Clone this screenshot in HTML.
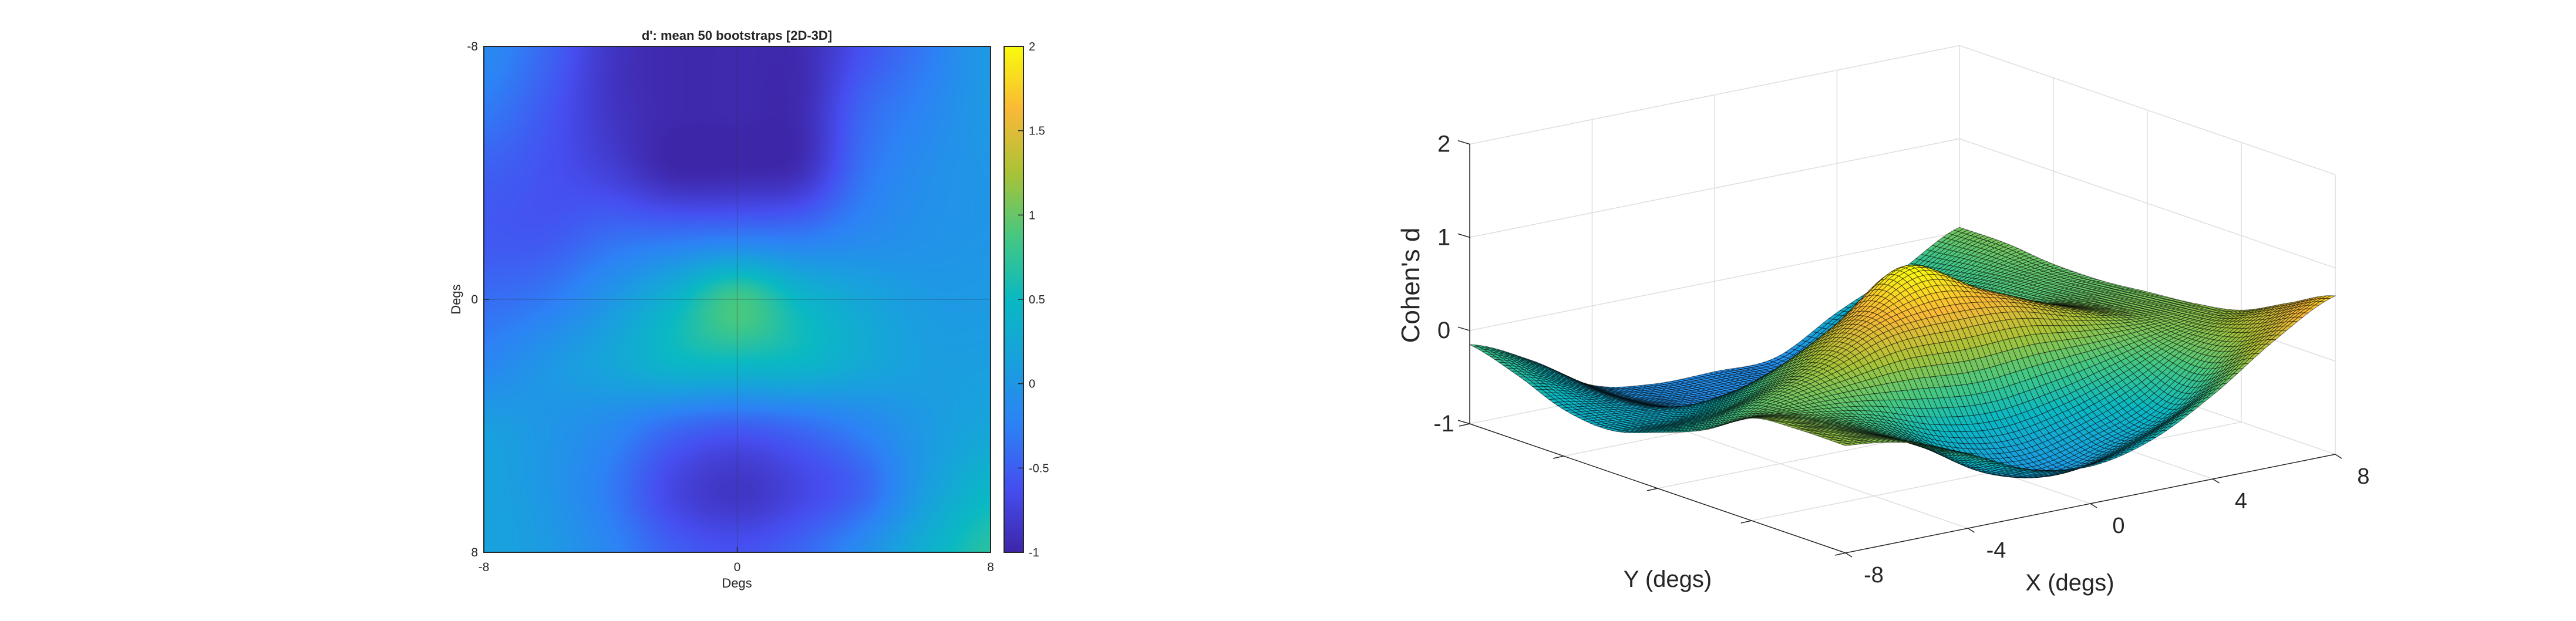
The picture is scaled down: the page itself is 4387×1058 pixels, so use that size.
<!DOCTYPE html>
<html><head><meta charset="utf-8">
<style>
html,body{margin:0;padding:0;background:#fff;}
body{width:4387px;height:1058px;position:relative;overflow:hidden;font-family:"Liberation Sans",sans-serif;}
svg{position:absolute;left:0;top:0;}
text{font-family:"Liberation Sans",sans-serif;fill:#262626;}
</style></head>
<body>
<canvas id="heat" width="863" height="862" style="position:absolute;left:824px;top:79px;"></canvas>
<canvas id="cbar" width="33" height="862" style="position:absolute;left:1710px;top:79px;"></canvas>
<svg id="main" width="4387" height="1058"></svg>
<script>
// ---- data: d' grid, rows y=-8..8 (step 2), cols x=-8..8 (step 2)
const gridX = [-8,-6,-4,-2,0,2,4,6,8];
const gridY = [-8,-6,-4,-2,0,2,4,6,8];
const row0 = [-0.15,-0.45,-0.85,-0.97,-0.97,-0.95,-0.60,-0.30,0.05];
const row1 = [-0.30,-0.55,-0.85,-0.97,-0.97,-0.95,-0.45,-0.20,0.05];
const row2 = [-0.50,-0.60,-0.75,-0.97,-0.97,-0.90,-0.35,-0.10,0.00];
const row3 = [-0.55,-0.55,-0.40,-0.35,-0.30,-0.30,-0.15,-0.05,0.00];
const row4 = [-0.40,-0.30,0.00,0.40,0.85,0.45,0.20,0.05,0.05];
const row5 = [-0.20,0.00,0.20,0.45,0.50,0.45,0.25,0.10,0.10];
const row6 = [0.10,0.00,-0.15,-0.40,-0.50,-0.40,-0.20,0.05,0.20];
const row7 = [0.15,0.00,-0.30,-0.70,-0.85,-0.70,-0.45,0.10,0.45];
const row8 = [0.15,0.05,-0.20,-0.50,-0.60,-0.45,-0.10,0.35,0.70];
const cbarTicks = [2,1.5,1,0.5,0,-0.5,-1];
const heatTicks = [-8,0,8];
const zTicks = [-1,0,1,2];
const xTicks3d = [-8,-4,0,4,8];
const yTicks3d = [-8,-4,0,4,8];

const Z = [row0,row1,row2,row3,row4,row5,row6,row7,row8];
const NS='http://www.w3.org/2000/svg';
const svg=document.getElementById('main');
function mk(tag,attrs,parent){const e=document.createElementNS(NS,tag);for(const k in attrs)e.setAttribute(k,attrs[k]);(parent||svg).appendChild(e);return e;}

const stops=[[0,62,38,168],[0.125,70,78,240],[0.25,45,130,245],[0.375,25,160,222],[0.5,10,185,195],[0.625,70,200,130],[0.75,170,195,55],[0.875,250,185,55],[1,249,251,14]];
function cmap(t){t=Math.max(0,Math.min(1,t));for(let i=1;i<stops.length;i++){if(t<=stops[i][0]){const a=stops[i-1],b=stops[i];const f=(t-a[0])/(b[0]-a[0]);return [a[1]+(b[1]-a[1])*f,a[2]+(b[2]-a[2])*f,a[3]+(b[3]-a[3])*f];}}return [249,251,14];}

function cr(p0,p1,p2,p3,t){return 0.5*((2*p1)+(-p0+p2)*t+(2*p0-5*p1+4*p2-p3)*t*t+(-p0+3*p1-3*p2+p3)*t*t*t);}
function g(r,c){r=Math.max(0,Math.min(gridY.length-1,r));c=Math.max(0,Math.min(gridX.length-1,c));return Z[r][c];}
function sample(x,y){
  const fx=(x-gridX[0])/(gridX[1]-gridX[0]), fy=(y-gridY[0])/(gridY[1]-gridY[0]);
  let ci=Math.floor(fx), ri=Math.floor(fy); if(ci>=gridX.length-1)ci=gridX.length-2; if(ri>=gridY.length-1)ri=gridY.length-2;
  const tx=fx-ci, ty=fy-ri; const rows=[];
  for(let k=-1;k<=2;k++){rows.push(cr(g(ri+k,ci-1),g(ri+k,ci),g(ri+k,ci+1),g(ri+k,ci+2),tx));}
  return cr(rows[0],rows[1],rows[2],rows[3],ty);
}

const HX0=824,HY0=79,HW=863,HH=862;
const cmin=-1,cmax=2;
(function(){
  const cv=document.getElementById('heat'),ctx=cv.getContext('2d');const img=ctx.createImageData(HW,HH);
  for(let j=0;j<HH;j++){const y=-8+16*(j+0.5)/HH;for(let i=0;i<HW;i++){const x=-8+16*(i+0.5)/HW;const v=sample(x,y);const c=cmap((v-cmin)/(cmax-cmin));const o=(j*HW+i)*4;img.data[o]=c[0];img.data[o+1]=c[1];img.data[o+2]=c[2];img.data[o+3]=255;}}
  ctx.putImageData(img,0,0);
  const cb=document.getElementById('cbar').getContext('2d');
  for(let j=0;j<HH;j++){const c=cmap(1-j/HH);cb.fillStyle=`rgb(${c[0]|0},${c[1]|0},${c[2]|0})`;cb.fillRect(0,j,33,1);}
})();
const hxS=v=>HX0+(v+8)/16*HW, hyS=v=>HY0+(v+8)/16*HH;
mk('line',{x1:hxS(0),y1:HY0,x2:hxS(0),y2:HY0+HH,stroke:'#333','stroke-opacity':0.35,'stroke-width':1.2,});
mk('line',{x1:HX0,y1:hyS(0),x2:HX0+HW,y2:hyS(0),stroke:'#333','stroke-opacity':0.35,'stroke-width':1.2,});
mk('rect',{x:HX0,y:HY0,width:HW,height:HH,fill:'none',stroke:'#262626','stroke-width':2,});
heatTicks.forEach(t=>{
  let e=mk('text',{x:hxS(t),y:973,'font-size':21,'text-anchor':'middle'});e.textContent=t;
  
  e=mk('text',{x:814,y:hyS(t)+7,'font-size':21,'text-anchor':'end'});e.textContent=t;
  
  mk('line',{x1:hxS(t),y1:HY0+HH,x2:hxS(t),y2:HY0+HH-9,stroke:'#262626','stroke-width':1.5,});
  mk('line',{x1:HX0,y1:hyS(t),x2:HX0+9,y2:hyS(t),stroke:'#262626','stroke-width':1.5,});
});
let tt=mk('text',{x:1255,y:68,'font-size':22,'font-weight':'bold','text-anchor':'middle',});tt.textContent="d': mean 50 bootstraps [2D-3D]";
tt=mk('text',{x:1255,y:1001,'font-size':22,'text-anchor':'middle',});tt.textContent='Degs';
tt=mk('text',{x:784,y:510,'font-size':22,'text-anchor':'middle',transform:'rotate(-90 784 510)',});tt.textContent='Degs';
mk('rect',{x:1710,y:79,width:33,height:862,fill:'none',stroke:'#262626','stroke-width':2,});
const cbY=v=>79+(cmax-v)/(cmax-cmin)*862;
cbarTicks.forEach(t=>{
  mk('line',{x1:1743,y1:cbY(t),x2:1734,y2:cbY(t),stroke:'#262626','stroke-width':1.5,});
  const e=mk('text',{x:1752,y:cbY(t)+7,'font-size':20});e.textContent=t;
  
});

// ---- 3D surface
const ZS=158.8;
function P(x,y,z){const u=(x+8)/16,v=(y+8)/16;return [2503+u*834+v*640, 722-u*168+v*220-(z+1)*ZS];}
function line3(a,b,st,w,name){const p=P(...a),q=P(...b);const e=mk('line',{x1:p[0],y1:p[1],x2:q[0],y2:q[1],stroke:st,'stroke-width':w});return e;}
const GC='#dedede';
zTicks.forEach(z=>{line3([-8,-8,z],[8,-8,z],GC,1.5,'back-wall-gridline');line3([8,-8,z],[8,8,z],GC,1.5,'right-wall-gridline');});
[-4,0,4,8].forEach(x=>line3([x,-8,-1],[x,-8,2],GC,1.5,'back-wall-vgridline'));
[-4,0,4,8].forEach(y=>line3([8,y,-1],[8,y,2],GC,1.5,'right-wall-vgridline'));
[-4,0,4].forEach(x=>line3([x,-8,-1],[x,8,-1],GC,1.5,'floor-gridline-x'));
[-4,0,4].forEach(y=>line3([-8,y,-1],[8,y,-1],GC,1.5,'floor-gridline-y'));
(function(){
  const N=90;const pts=[];let zmin=1e9,zmax=-1e9;
  for(let j=0;j<=N;j++){pts.push([]);for(let i=0;i<=N;i++){const x=-8+16*i/N,y=-8+16*j/N;const z=sample(x,y);zmin=Math.min(zmin,z);zmax=Math.max(zmax,z);pts[j].push([x,y,z]);}}
  const lo=zmin-0.75;
  const quads=[];
  for(let j=0;j<N;j++)for(let i=0;i<N;i++){const a=pts[j][i],b=pts[j][i+1],c=pts[j+1][i+1],d=pts[j+1][i];const zc=(a[2]+b[2]+c[2]+d[2])/4;const u=(i+0.5)/N,v=(j+0.5)/N;quads.push({a,b,c,d,zc,key:v*220-u*168});}
  quads.sort((p,q)=>p.key-q.key);
  const gS=mk('g',{});
  quads.forEach(q=>{const pp=[q.a,q.b,q.c,q.d].map(p=>P(...p).map(n=>n.toFixed(1)).join(',')).join(' ');const col=cmap((q.zc-lo)/(zmax-lo));
    const e=mk('polygon',{points:pp,fill:`rgb(${col[0]|0},${col[1]|0},${col[2]|0})`,stroke:'rgba(0,0,0,0.55)','stroke-width':1},gS);
    });
})();
line3([-8,-8,-1],[-8,-8,2],'#262626',1.5,'z-axis-line');
line3([-8,-8,-1],[-8,8,-1],'#262626',1.5,'y-axis-line');
line3([-8,8,-1],[8,8,-1],'#262626',1.5,'x-axis-line');
zTicks.forEach(z=>{const p=P(-8,-8,z);mk('line',{x1:p[0],y1:p[1],x2:p[0]-20,y2:p[1]-6,stroke:'#262626','stroke-width':1.5,});
  const e=mk('text',{x:p[0]-44,y:p[1]+13,'font-size':40,'text-anchor':'middle'});e.textContent=z;
  });
xTicks3d.forEach(x=>{const p=P(x,8,-1);mk('line',{x1:p[0],y1:p[1],x2:p[0]+11,y2:p[1]+7,stroke:'#262626','stroke-width':1.5,});
  const e=mk('text',{x:p[0]+48,y:p[1]+50,'font-size':38,'text-anchor':'middle'});e.textContent=x;
  });
yTicks3d.forEach(y=>{const p=P(-8,y,-1);mk('line',{x1:p[0],y1:p[1],x2:p[0]-18,y2:p[1]+4,stroke:'#262626','stroke-width':1.5,});});
tt=mk('text',{x:3525,y:1006,'font-size':40,'text-anchor':'middle',});tt.textContent='X (degs)';
tt=mk('text',{x:2840,y:1000,'font-size':40,'text-anchor':'middle',});tt.textContent='Y (degs)';
tt=mk('text',{x:2417,y:486,'font-size':44,'text-anchor':'middle',transform:'rotate(-90 2417 486)',});tt.textContent="Cohen's d";
</script>
</body></html>
